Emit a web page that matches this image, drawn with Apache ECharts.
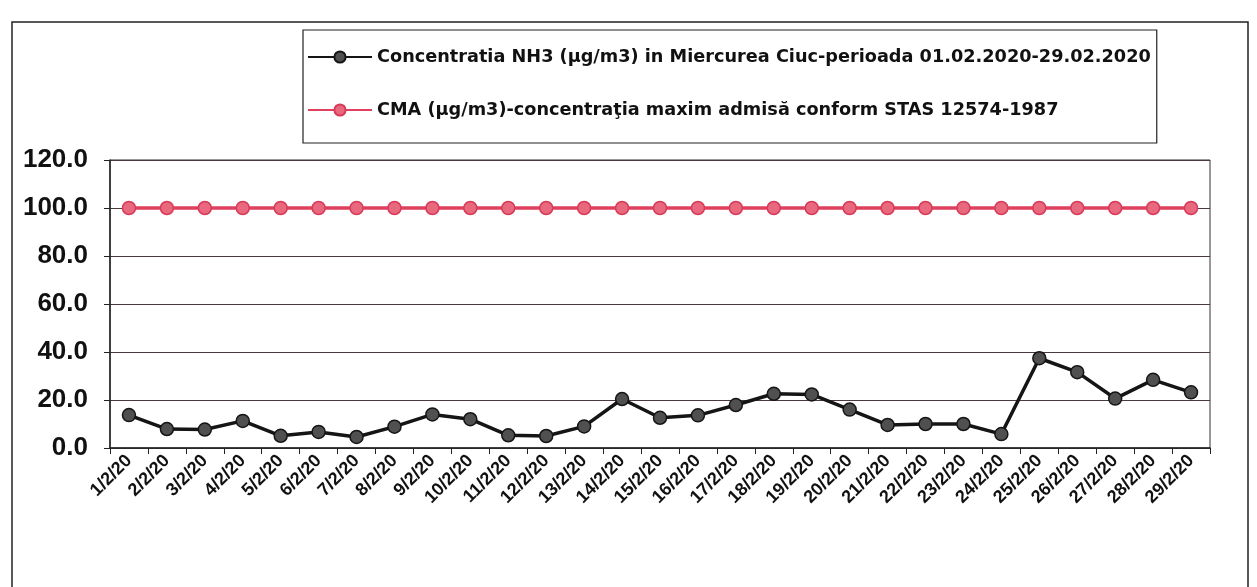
<!DOCTYPE html>
<html>
<head>
<meta charset="utf-8">
<script src="https://cdn.jsdelivr.net/npm/echarts@6/dist/echarts.min.js"></script>
<style>
html,body{margin:0;padding:0;background:#fff;}
#c{width:1257px;height:587px;}
</style>
</head>
<body>
<div id="c"></div>
<script>
const categories = ['1/2/20','2/2/20','3/2/20','4/2/20','5/2/20','6/2/20','7/2/20','8/2/20','9/2/20','10/2/20',
  '11/2/20','12/2/20','13/2/20','14/2/20','15/2/20','16/2/20','17/2/20','18/2/20','19/2/20','20/2/20',
  '21/2/20','22/2/20','23/2/20','24/2/20','25/2/20','26/2/20','27/2/20','28/2/20','29/2/20'];
const nh3Values = [13.7, 7.9, 7.7, 11.3, 5.1, 6.7, 4.6, 8.9, 14.0, 12.0,
  5.3, 5.0, 9.0, 20.4, 12.6, 13.6, 17.9, 22.6, 22.3, 16.0,
  9.6, 10.0, 10.0, 5.8, 37.4, 31.6, 20.6, 28.4, 23.2];
const cmaValues = [100,100,100,100,100,100,100,100,100,100,100,100,100,100,100,100,100,100,100,100,100,100,100,100,100,100,100,100,100];
const seriesNames = ['Concentratia NH3 (µg/m3) in Miercurea Ciuc-perioada 01.02.2020-29.02.2020',
  'CMA (µg/m3)-concentraţia maxim admisă conform STAS 12574-1987'];
const yTicks = {min: 0, max: 120, interval: 20};

const chart = echarts.init(document.getElementById('c'));
const FONT = '"Liberation Sans", Arial, sans-serif';
chart.setOption({
  backgroundColor: '#fff',
  animation: false,
  graphic: [{
    type: 'rect', shape: {x: 12, y: 22, width: 1236, height: 600},
    style: {fill: 'none', stroke: '#222', lineWidth: 1.5}, silent: true, z: -10
  }],
  legend: {
    orient: 'vertical', left: 303, top: 30,
    padding: [17, 6, 23, 4], itemGap: 33,
    itemWidth: 64, itemHeight: 14,
    borderColor: '#222', borderWidth: 1.2,
    textStyle: {fontFamily: '"DejaVu Sans", sans-serif', fontWeight: 'bold', fontSize: 17.7, color: '#111', lineHeight: 20},
    data: seriesNames
  },
  grid: {left: 110, right: 47, top: 160, bottom: 139, show: true, borderColor: '#333', borderWidth: 1},
  xAxis: {
    type: 'category', data: categories, boundaryGap: true,
    axisLine: {lineStyle: {color: '#222', width: 1.5}},
    axisTick: {show: true, length: 6, lineStyle: {color: '#222'}},
    axisLabel: {rotate: 45, interval: 0, margin: 10, fontFamily: FONT, fontWeight: 'bold', fontSize: 18, color: '#111'}
  },
  yAxis: {
    type: 'value', min: yTicks.min, max: yTicks.max, interval: yTicks.interval,
    axisLine: {show: true, lineStyle: {color: '#222', width: 1.5}},
    axisTick: {show: true, length: 6, lineStyle: {color: '#222'}},
    splitLine: {lineStyle: {color: '#4a3a3e', width: 1.2}},
    axisLabel: {margin: 22, fontFamily: FONT, fontWeight: 'bold', fontSize: 26, color: '#111',
      formatter: v => v.toFixed(1)}
  },
  series: [{
    name: seriesNames[0], type: 'line', data: nh3Values,
    symbol: 'circle', symbolSize: 13,
    lineStyle: {color: '#151515', width: 3.5},
    itemStyle: {color: '#505050', borderColor: '#151515', borderWidth: 1.5}
  }, {
    name: seriesNames[1], type: 'line', data: cmaValues,
    symbol: 'circle', symbolSize: 13,
    lineStyle: {color: '#e0405e', width: 3.5},
    itemStyle: {color: '#e8687e', borderColor: '#d83a58', borderWidth: 1.5}
  }]
});
</script>
</body>
</html>
